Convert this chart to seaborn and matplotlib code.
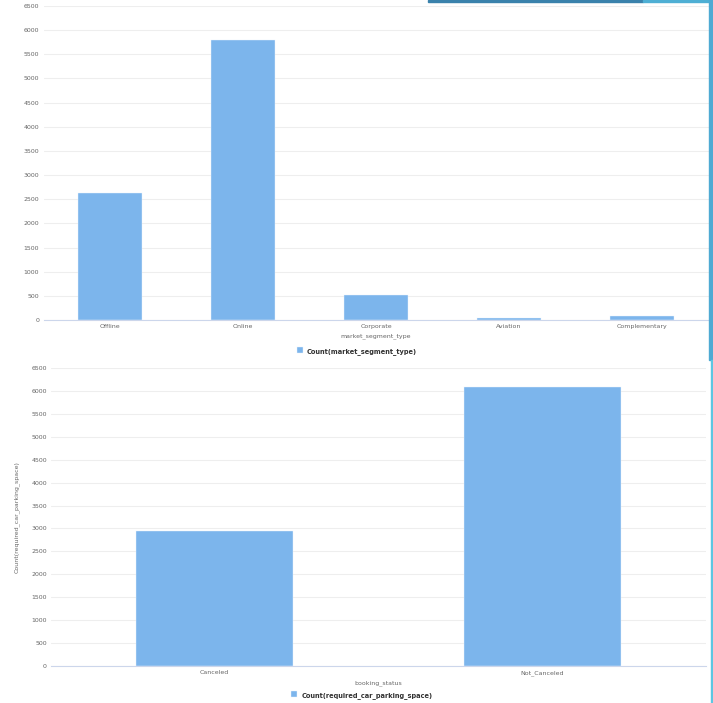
import matplotlib
matplotlib.use("Agg")
import matplotlib.pyplot as plt
import seaborn as sns
import pandas as pd
from matplotlib.patches import Rectangle

# ---- data ----
segment_categories = ["Offline", "Online", "Corporate", "Aviation", "Complementary"]
segment_counts = [2620, 5790, 510, 35, 85]
segment_label = "Count(market_segment_type)"

status_categories = ["Canceled", "Not_Canceled"]
status_counts = [2950, 6080]
status_label = "Count(required_car_parking_space)"

y_ticks = list(range(0, 7000, 500))

BAR = "#7cb5ec"
GRID = "#eeeeee"
TXT = "#666666"

sns.set_theme(style="white")
plt.rcParams['font.family'] = ['DejaVu Sans']

W, H = 713, 703
fig = plt.figure(figsize=(W / 100, H / 100), dpi=100)
fig.patch.set_facecolor("white")


def fx(px):
    return px / W


def fy(py):
    return 1 - py / H


def style_axes(ax):
    ax.set_ylim(0, 6500)
    ax.set_yticks(y_ticks)
    ax.set_yticklabels([str(v) for v in y_ticks])
    ax.yaxis.grid(True, color=GRID, lw=0.8)
    ax.set_axisbelow(True)
    for s in ["left", "right", "top"]:
        ax.spines[s].set_visible(False)
    ax.spines["bottom"].set_color("#ccd6eb")
    ax.spines["bottom"].set_linewidth(0.8)
    ax.tick_params(axis="both", length=0, labelsize=4.5, labelcolor=TXT, pad=3)


# ---- top chart ----
ax1 = fig.add_axes([fx(43.5), fy(320), fx(665), 314 / H])
df1 = pd.DataFrame({"market_segment_type": segment_categories, "count": segment_counts})
sns.barplot(data=df1, x="market_segment_type", y="count", ax=ax1, color=BAR,
            width=0.48, saturation=1, label=segment_label,
            edgecolor="#e8f2fc", linewidth=0.3)
style_axes(ax1)
ax1.set_ylabel("")
ax1.set_xlabel("market_segment_type", fontsize=4.5, color=TXT, labelpad=3)
h1, l1 = ax1.get_legend_handles_labels()
if ax1.get_legend() is not None:
    ax1.get_legend().remove()
fig.legend(h1, l1, loc="center", bbox_to_anchor=(fx(357), fy(351)), frameon=False,
           prop={"size": 4.8, "weight": "bold"}, labelcolor="#333333",
           handlelength=0.9, handleheight=0.9, handletextpad=0.6)

# ---- bottom chart ----
ax2 = fig.add_axes([fx(51), fy(666), fx(655), 298 / H])
df2 = pd.DataFrame({"booking_status": status_categories, "count": status_counts})
sns.barplot(data=df2, x="booking_status", y="count", ax=ax2, color=BAR,
            width=0.48, saturation=1, label=status_label,
            edgecolor="#e8f2fc", linewidth=0.3)
style_axes(ax2)
ax2.set_ylabel(status_label, fontsize=4.5, color=TXT, labelpad=8)
ax2.set_xlabel("booking_status", fontsize=4.5, color=TXT, labelpad=3)
h2, l2 = ax2.get_legend_handles_labels()
if ax2.get_legend() is not None:
    ax2.get_legend().remove()
fig.legend(h2, l2, loc="center", bbox_to_anchor=(fx(362), fy(695)), frameon=False,
           prop={"size": 4.8, "weight": "bold"}, labelcolor="#333333",
           handlelength=0.9, handleheight=0.9, handletextpad=0.6)

# ---- frame decorations ----
fig.patches.append(Rectangle((fx(428), fy(2)), fx(215), 2 / H, transform=fig.transFigure,
                             color="#3a82ac", zorder=10))
fig.patches.append(Rectangle((fx(643), fy(2)), fx(70), 2 / H, transform=fig.transFigure,
                             color="#4eafd4", zorder=10))
fig.patches.append(Rectangle((fx(709), fy(360)), fx(4), 360 / H, transform=fig.transFigure,
                             color="#4eaad3", zorder=10))
fig.patches.append(Rectangle((fx(711), 0), fx(2), fy(360), transform=fig.transFigure,
                             color="#5cc6e2", zorder=10))

fig.savefig("out.png", dpi=100, facecolor="white")
